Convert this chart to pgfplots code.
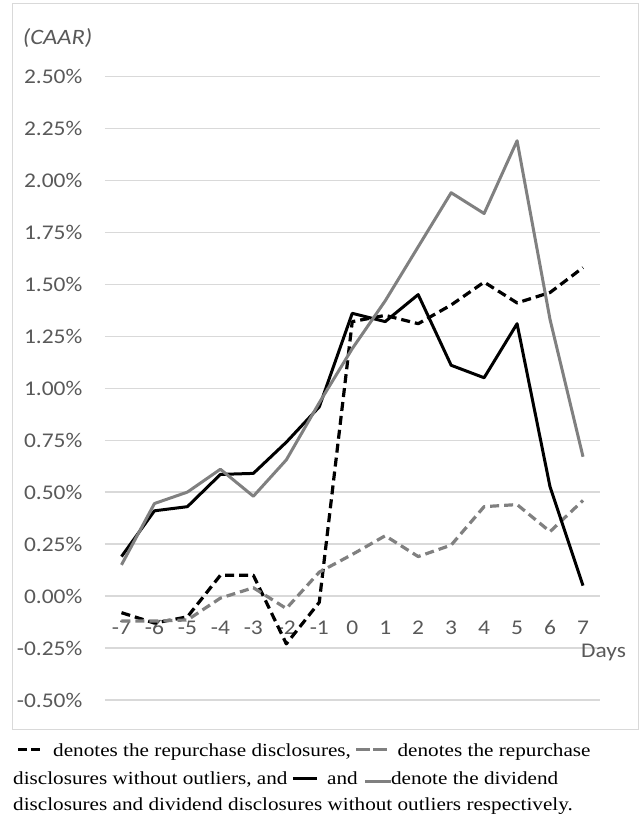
\documentclass[border=0pt]{standalone}
\usepackage{pgfplots}
\pgfplotsset{compat=1.18}
\usepackage{fontspec}
\setmainfont{Carlito}[FakeStretch=1.12]
\newfontfamily\capfont{Liberation Serif}[FakeStretch=1.15]
\definecolor{txt}{HTML}{595959}
\definecolor{gridc}{HTML}{D9D9D9}
\definecolor{ser}{HTML}{808080}
\begin{document}
\begin{tikzpicture}
\useasboundingbox (-105bp,-120bp) rectangle (535bp,700bp);
\draw[gridc, line width=1bp] (-92.5bp,-29bp) rectangle (533bp,696bp);
\begin{axis}[
  at={(0,0)}, anchor=south west, scale only axis,
  width=494.5bp, height=623.7bp,
  xmin=-7.5, xmax=7.5, ymin=-0.5, ymax=2.5,
  xtick={-7,-6,-5,-4,-3,-2,-1,0,1,2,3,4,5,6,7},
  xticklabels={-7,-6,-5,-4,-3,-2,-1,0,1,2,3,4,5,6,7},
  ytick={-0.5,-0.25,0,0.25,0.5,0.75,1,1.25,1.5,1.75,2,2.25,2.5},
  yticklabels={-0.50\%,-0.25\%,0.00\%,0.25\%,0.50\%,0.75\%,1.00\%,1.25\%,1.50\%,1.75\%,2.00\%,2.25\%,2.50\%},
  axis line style={draw=none}, major tick length=0pt,
  ymajorgrids, grid style={gridc, line width=1.2bp},
  tick label style={font=\fontsize{21}{25}\selectfont, text=txt},
  yticklabel style={anchor=east, inner sep=0pt, xshift=-22.5bp},
  xticklabel style={anchor=base, inner sep=0pt, yshift=66bp},
  clip=false,
]
% repurchase disclosures
\addplot[black, line width=3.2bp, dash pattern=on 9bp off 5bp, line join=round] coordinates {
(-7,-0.08) (-6,-0.13) (-5,-0.10) (-4,0.10) (-3,0.10) (-2,-0.23) (-1,-0.03) (0,1.32) (1,1.35) (2,1.31) (3,1.40) (4,1.51) (5,1.41) (6,1.46) (7,1.58)};
% repurchase disclosures without outliers
\addplot[ser, line width=3.2bp, dash pattern=on 9bp off 5bp, line join=round] coordinates {
(-7,-0.12) (-6,-0.12) (-5,-0.115) (-4,-0.01) (-3,0.04) (-2,-0.06) (-1,0.115) (0,0.20) (1,0.29) (2,0.19) (3,0.245) (4,0.43) (5,0.44) (6,0.31) (7,0.46)};
% dividend disclosures
\addplot[black, line width=3bp, line join=round] coordinates {
(-7,0.19) (-6,0.41) (-5,0.43) (-4,0.585) (-3,0.59) (-2,0.74) (-1,0.91) (0,1.36) (1,1.32) (2,1.45) (3,1.11) (4,1.05) (5,1.31) (6,0.525) (7,0.05)};
% dividend disclosures without outliers
\addplot[ser, line width=3bp, line join=round] coordinates {
(-7,0.15) (-6,0.445) (-5,0.50) (-4,0.61) (-3,0.48) (-2,0.655) (-1,0.93) (0,1.19) (1,1.42) (2,1.68) (3,1.94) (4,1.84) (5,2.19) (6,1.33) (7,0.67)};
\end{axis}
\node[anchor=base west, inner sep=0pt, text=txt, font=\fontsize{21}{25}\selectfont] at (476bp,42bp) {Days};
\node[anchor=west, inner sep=0pt, text=txt, font=\fontsize{22}{26}\selectfont\itshape] at (-82.3bp,662bp) {(CAAR)};
\node[anchor=base west, inner sep=0pt, font=\capfont\fontsize{18.5}{22}\selectfont] at (-87bp,-56bp)
 {\raisebox{5bp}{\rule{9bp}{3.5bp}}\hspace{4bp}\raisebox{5bp}{\rule{9bp}{3.5bp}}\hspace{13bp}denotes the repurchase disclosures, \textcolor{ser}{\raisebox{5bp}{\rule{14bp}{3.5bp}}\hspace{3bp}\raisebox{5bp}{\rule{14bp}{3.5bp}}}\hspace{5bp} denotes the repurchase};
\node[anchor=base west, inner sep=0pt, font=\capfont\fontsize{18.5}{22}\selectfont] at (-92bp,-84bp)
 {disclosures without outliers, and \raisebox{4bp}{\rule{24bp}{3.5bp}}\hspace{5bp} and \hspace{2bp}\textcolor{ser}{\raisebox{1bp}{\rule{26bp}{3.5bp}}}denote the dividend};
\node[anchor=base west, inner sep=0pt, font=\capfont\fontsize{18.5}{22}\selectfont] at (-92bp,-110.7bp)
 {disclosures and dividend disclosures without outliers respectively.};
\end{tikzpicture}
\end{document}
